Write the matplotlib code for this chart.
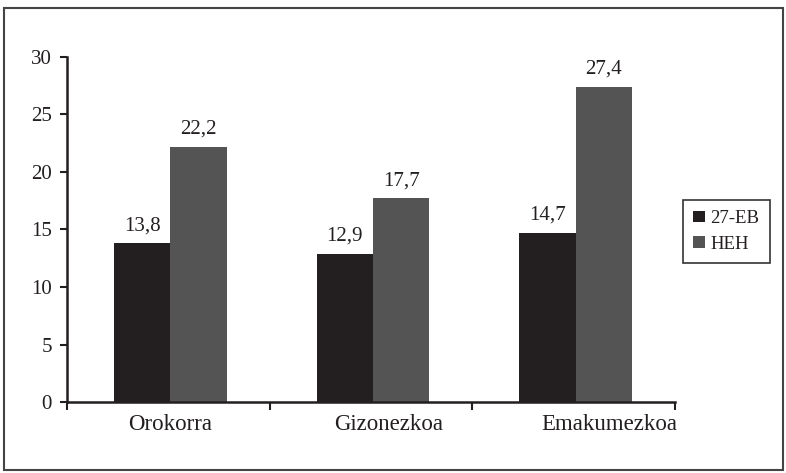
import matplotlib.pyplot as plt
import matplotlib.patches as patches
import numpy as np

plt.rcParams['font.family'] = ['Liberation Serif', 'DejaVu Serif']

categories = ['Orokorra', 'Gizonezkoa', 'Emakumezkoa']
eb27 = [13.8, 12.9, 14.7]
heh = [22.2, 17.7, 27.4]
series_names = ['27-EB', 'HEH']
yticks = [0, 5, 10, 15, 20, 25, 30]

txt = '#231f20'
c_dark = '#231f20'
c_grey = '#545454'

fig = plt.figure(figsize=(7.86, 4.73), dpi=100)
ax = fig.add_axes([67 / 786, 1 - 402 / 473, 608 / 786, 345 / 473])

x = np.arange(len(categories))
w = 0.278
b1 = ax.bar(x - w / 2 + 0.01, eb27, w, color=c_dark, label=series_names[0])
b2 = ax.bar(x + w / 2 + 0.01, heh, w, color=c_grey, label=series_names[1])

for bars, vals in ((b1, eb27), (b2, heh)):
    for r, v in zip(bars, vals):
        ax.annotate(f'{v:.1f}'.replace('.', ','),
                    (r.get_x() + r.get_width() / 2, r.get_height()),
                    xytext=(0, 9.5), textcoords='offset points',
                    ha='center', va='baseline', fontsize=15, color=txt)

ax.set_xlim(-0.5, 2.5)
ax.set_ylim(0, 30)
ax.set_yticks(yticks)
ax.set_yticklabels([str(t) for t in yticks], fontsize=15, color=txt)

# category ticks sit between groups; labels drift right like the original
ax.set_xticks([-0.5, 0.5, 1.5, 2.5])
ax.set_xticklabels([])
label_shift = np.array([0.01, 0.085, 0.178])
ax.set_xticks(x + label_shift, minor=True)
ax.set_xticklabels(categories, minor=True, fontsize=16.5, color=txt)
ax.tick_params(axis='x', which='minor', length=0, pad=9)
ax.tick_params(axis='x', which='major', length=6, width=1.5, color=txt)
ax.tick_params(axis='y', length=5, width=1.5, color=txt, pad=6)

for s in ('top', 'right'):
    ax.spines[s].set_visible(False)
for s in ('left', 'bottom'):
    ax.spines[s].set_linewidth(1.8)
    ax.spines[s].set_color(txt)

leg = ax.legend(loc='center', bbox_to_anchor=(0.924, 0.511),
                bbox_transform=fig.transFigure, fontsize=13.5,
                handlelength=0.6, handleheight=0.6, handletextpad=0.3,
                fancybox=False, framealpha=1, borderpad=0.55,
                labelspacing=0.45)
leg.get_frame().set_edgecolor('#333333')
leg.get_frame().set_linewidth(1.2)
for t in leg.get_texts():
    t.set_color(txt)

fig.patches.append(patches.Rectangle((4 / 786, 3 / 473), 779 / 786, 462 / 473,
                                     transform=fig.transFigure, fill=False,
                                     edgecolor='#444444', linewidth=1.5))

fig.savefig('out.png', dpi=100)
